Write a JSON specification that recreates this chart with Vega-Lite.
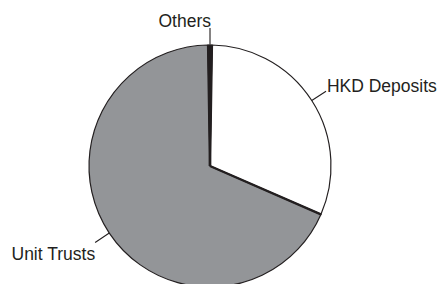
{
  "$schema": "https://vega.github.io/schema/vega-lite/v6.json",
  "width": 420,
  "height": 332,
  "autosize": {"type": "none"},
  "padding": {"left": 0, "top": 0, "right": 19, "bottom": 0},
  "background": "white",
  "config": {"view": {"stroke": null}},
  "data": {
    "values": [
      {"category": "HKD Deposits", "value": 31.3, "order": 1},
      {"category": "Unit Trusts", "value": 68.2, "order": 2},
      {"category": "Others", "value": 0.5, "order": 3}
    ]
  },
  "transform": [
    {"stack": "value", "groupby": [], "sort": [{"field": "order"}], "as": ["v0", "v1"]},
    {"calculate": "(datum.v0 + datum.v1) / 2", "as": "mid"}
  ],
  "layer": [
    {
      "mark": {"type": "arc", "radius": 121, "stroke": "#231f20", "strokeWidth": 1.2},
      "encoding": {
        "theta": {"field": "v0", "type": "quantitative", "stack": null, "scale": {"domain": [0, 100], "range": [0.0157, 6.2989]}},
        "theta2": {"field": "v1"},
        "color": {
          "field": "category",
          "type": "nominal",
          "scale": {"domain": ["HKD Deposits", "Unit Trusts", "Others"], "range": ["#ffffff", "#939598", "#231f20"]},
          "legend": null
        }
      }
    },
    {
      "mark": {"type": "arc", "radius": 121, "radius2": 0, "filled": false, "stroke": "#231f20", "strokeWidth": 2.4},
      "encoding": {
        "theta": {"field": "v0", "type": "quantitative", "stack": null},
        "theta2": {"field": "v0"}
      }
    },
    {
      "mark": {"type": "arc", "radius": 138, "radius2": 121, "filled": false, "stroke": "#231f20", "strokeWidth": 1.1},
      "encoding": {
        "theta": {"field": "mid", "type": "quantitative", "stack": null},
        "theta2": {"field": "mid"}
      }
    },
    {
      "transform": [{"filter": "datum.category == 'Others'"}],
      "mark": {"type": "text", "align": "right", "baseline": "alphabetic", "font": "Liberation Sans", "fontSize": 17.5, "color": "#231f20", "dx": 1},
      "encoding": {
        "theta": {"field": "mid", "type": "quantitative", "stack": null},
        "radius": {"value": 139},
        "text": {"field": "category"}
      }
    },
    {
      "transform": [{"filter": "datum.category == 'HKD Deposits'"}],
      "mark": {"type": "text", "align": "left", "baseline": "alphabetic", "font": "Liberation Sans", "fontSize": 17.5, "color": "#231f20", "dy": 1, "dx": 0},
      "encoding": {
        "theta": {"field": "mid", "type": "quantitative", "stack": null},
        "radius": {"value": 139},
        "text": {"field": "category"}
      }
    },
    {
      "transform": [{"filter": "datum.category == 'Unit Trusts'"}],
      "mark": {"type": "text", "align": "right", "baseline": "top", "font": "Liberation Sans", "fontSize": 17.5, "color": "#231f20", "dy": 4},
      "encoding": {
        "theta": {"field": "mid", "type": "quantitative", "stack": null},
        "radius": {"value": 138},
        "text": {"field": "category"}
      }
    }
  ]
}
